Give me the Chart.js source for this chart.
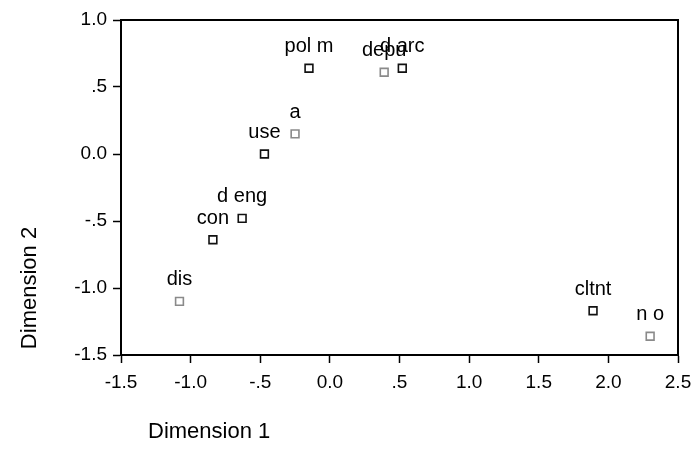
<!DOCTYPE html>
<html>
<head>
<meta charset="utf-8">
<script src="https://cdn.jsdelivr.net/npm/chart.js@4"></script>
<style>
  html, body { margin: 0; padding: 0; background: #fff; }
  #plot { display: block; }
</style>
</head>
<body>
<canvas id="plot" width="696" height="467"></canvas>
<script>
// category labels and their coordinates on the two dimensions
const labels = ['pol m', 'depu', 'd arc', 'a', 'use', 'd eng', 'con', 'dis', 'cltnt', 'n o'];
const dim1 = [-0.15, 0.39, 0.52, -0.25, -0.47, -0.63, -0.84, -1.08, 1.89, 2.30];
const dim2 = [0.64, 0.61, 0.64, 0.15, 0.00, -0.48, -0.64, -1.10, -1.17, -1.36];
// lighter (dotted looking) markers
const faint = [false, true, false, true, false, false, false, true, false, true];

const xTicks = [-1.5, -1.0, -0.5, 0.0, 0.5, 1.0, 1.5, 2.0, 2.5];
const yTicks = [-1.5, -1.0, -0.5, 0.0, 0.5, 1.0];

const fontFamily = '"Liberation Sans", Arial, sans-serif';

// SPSS style numbers: ".5", "-.5", "0.0", "1.0"
const fmt = (v) => {
  if (Math.abs(v) < 1e-9) return '0.0';
  let s = Math.abs(v).toFixed(1);
  if (s.startsWith('0')) s = s.slice(1);
  return (v < 0 ? '-' : '') + s;
};

const pointLabels = {
  id: 'pointLabels',
  afterDatasetsDraw(chart) {
    const ctx = chart.ctx;
    const meta = chart.getDatasetMeta(0);
    ctx.save();
    ctx.font = '20px ' + fontFamily;
    ctx.fillStyle = '#000';
    ctx.textAlign = 'center';
    ctx.textBaseline = 'alphabetic';
    meta.data.forEach((pt, i) => {
      ctx.fillText(labels[i], pt.x, pt.y - 16);
    });
    ctx.restore();
  }
};

const axisTitles = {
  id: 'axisTitles',
  afterDraw(chart) {
    const ctx = chart.ctx;
    ctx.save();
    ctx.font = '22px ' + fontFamily;
    ctx.fillStyle = '#000';
    ctx.textBaseline = 'middle';
    ctx.textAlign = 'left';
    ctx.fillText('Dimension 1', 148, 432);
    ctx.translate(30, 288);
    ctx.rotate(-Math.PI / 2);
    ctx.textAlign = 'center';
    ctx.fillText('Dimension 2', 0, 0);
    ctx.restore();
  }
};

// box around the plotting area
const frame = {
  id: 'frame',
  beforeDatasetsDraw(chart) {
    const { left, right, top, bottom } = chart.chartArea;
    const ctx = chart.ctx;
    ctx.save();
    ctx.strokeStyle = '#000';
    ctx.lineWidth = 2;
    ctx.strokeRect(left, top, right - left, bottom - top);
    ctx.restore();
  }
};

const tickGrid = {
  display: true,
  drawOnChartArea: false,
  drawTicks: true,
  tickLength: 8,
  tickColor: '#000',
  tickWidth: 1.5,
  color: '#000'
};

new Chart(document.getElementById('plot'), {
  type: 'scatter',
  data: {
    datasets: [{
      data: dim1.map((x, i) => ({ x, y: dim2[i] })),
      pointStyle: 'rect',
      pointRadius: 5.5,
      pointHoverRadius: 5.5,
      pointBorderWidth: 1.6,
      pointBorderColor: faint.map(f => f ? '#8a8a8a' : '#111'),
      pointBackgroundColor: '#fff'
    }]
  },
  options: {
    responsive: false,
    animation: false,
    events: [],
    layout: { padding: { top: 20, right: 18, left: 0, bottom: 0 } },
    plugins: { legend: { display: false }, tooltip: { enabled: false } },
    scales: {
      x: {
        type: 'linear',
        min: -1.5, max: 2.5,
        afterBuildTicks: (s) => { s.ticks = xTicks.map(v => ({ value: v })); },
        afterFit: (s) => { s.height = 112; s.paddingRight = 0; s.paddingLeft = 0; },
        grid: tickGrid,
        border: { display: true, color: '#000', width: 2 },
        ticks: {
          color: '#000', padding: 8,
          font: { family: fontFamily, size: 19 },
          maxRotation: 0,
          callback: (v) => fmt(v)
        }
      },
      y: {
        type: 'linear',
        min: -1.5, max: 1.0,
        afterBuildTicks: (s) => { s.ticks = yTicks.map(v => ({ value: v })); },
        afterFit: (s) => { s.width = 121; s.paddingTop = 0; s.paddingBottom = 0; },
        grid: tickGrid,
        border: { display: true, color: '#000', width: 2 },
        ticks: {
          color: '#000', padding: 6,
          font: { family: fontFamily, size: 19 },
          callback: (v) => fmt(v)
        }
      }
    }
  },
  plugins: [frame, pointLabels, axisTitles]
});
</script>
</body>
</html>
